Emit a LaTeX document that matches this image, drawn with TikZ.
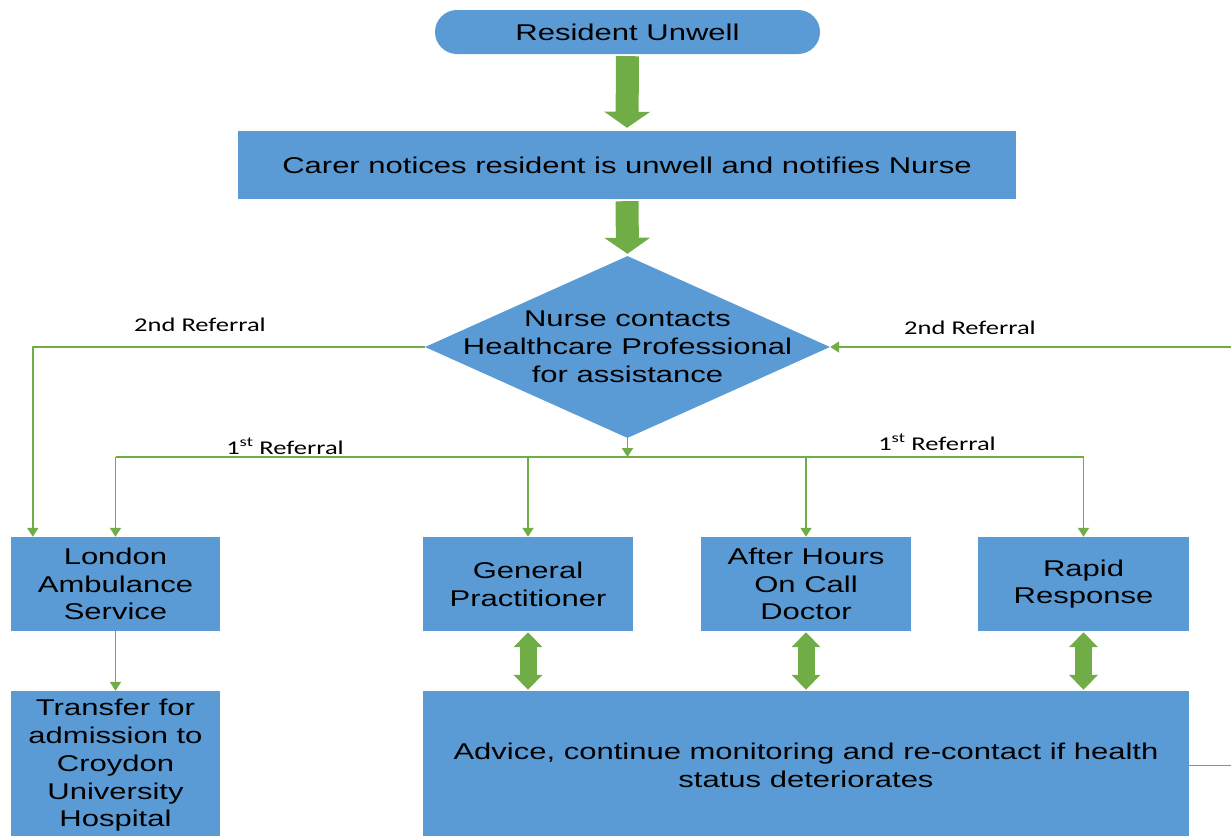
\documentclass[tikz,border=0pt]{standalone}
\usepackage{fontspec}
\setmainfont{Liberation Sans}[FakeStretch=1.36]
\newfontfamily\notefont{Carlito}[FakeStretch=1.36]
\usetikzlibrary{arrows.meta,shapes.geometric}
\definecolor{boxblue}{HTML}{5B9BD5}
\definecolor{flowgreen}{HTML}{70AD47}
\newcommand{\boxfontsize}{\fontsize{22.8}{27.8}\selectfont}
\tikzset{
  every picture/.style = {font=\boxfontsize, line join=round},
  box/.style           = {rectangle, fill=boxblue, inner sep=0pt, align=center, text=black},
  decision/.style      = {diamond, fill=boxblue, inner sep=0pt, minimum width=405pt, minimum height=182pt},
  bigarrow/.style      = {draw=flowgreen, line width=23pt, -{Triangle[width=45pt,length=16pt]}},
  twoway/.style        = {draw=flowgreen, line width=17pt,
                          {Triangle[width=28pt,length=15pt]}-{Triangle[width=28pt,length=15pt]}},
  link/.style          = {draw=flowgreen, line width=1.8pt, -{Triangle[width=11pt,length=9pt]}},
  wire/.style          = {draw=flowgreen, line width=1.8pt},
  note/.style          = {font=\notefont\fontsize{19.5}{22}\selectfont, text=black},
}
\begin{document}
\begin{tikzpicture}[x=1pt, y=-1pt]
  \useasboundingbox (0,0) rectangle (1231,835);
  \clip (0,0) rectangle (1231,835);

  % ---------- the chain down to the nurse ------------------------------------
  \node[box, rounded corners=22pt, minimum width=385pt, minimum height=44pt]
    (resident) at (627.5,32) {Resident Unwell};
  \node[box, minimum width=778pt, minimum height=68pt]
    (carer) at (627,165) {Carer notices resident is unwell and notifies Nurse};
  \node[decision] (nurse) at (627.5,347) {};
  \node[align=center] (nursetext) at (nurse.center)
    {Nurse contacts\\Healthcare Professional\\for assistance};

  \draw[bigarrow, shorten <=2pt, shorten >=3pt] (resident.south) -- (carer.north);
  \draw[bigarrow, shorten <=2pt, shorten >=2pt] (carer.south) -- (nurse.north);

  % ---------- the four services -----------------------------------------------
  \node[box, minimum width=209pt, minimum height=94pt] (las)        at (115.5,584) {London\\Ambulance\\Service};
  \node[box, minimum width=210pt, minimum height=94pt] (gp)         at (528,584)   {General\\Practitioner};
  \node[box, minimum width=210pt, minimum height=94pt] (afterhours) at (806,584)   {After Hours\\On Call\\Doctor};
  \node[box, minimum width=211pt, minimum height=94pt] (rapid)      at (1083.5,584) {Rapid\\Response};

  \node[box, minimum width=209pt, minimum height=149pt] (transfer) at (115.5,765.5)
    {Transfer for\\admission to\\Croydon\\University\\Hospital};
  \node[box, minimum width=766pt, minimum height=149pt] (advice) at (806,765.5)
    {Advice, continue monitoring and re-contact if health\\status deteriorates};

  % 1st referral: one bus under the diamond, a drop to each service
  \coordinate (branch) at (627.5,457);
  \draw[link] (nurse.south) -- (branch);
  \draw[wire] (las.north |- branch) -- (rapid.north |- branch);
  \foreach \svc in {las, gp, afterhours, rapid}
    \draw[link] (\svc.north |- branch) -- (\svc.north);
  \node[note] (firstleft)  at (285,446) {1\textsuperscript{st} Referral};
  \node[note] (firstright) at (937,442) {1\textsuperscript{st} Referral};

  % 2nd referral: out to the ambulance, and back in from the advice box
  \coordinate (lasdrop) at ([xshift=22pt]las.north west);
  \draw[link] (nurse.west) -| (lasdrop);
  \coordinate (farright) at (1250,765.5);
  \draw[link] (advice.east) -- (farright) |- (nurse.east);
  \node[note] (secondleft)  at (200,325) {2nd Referral};
  \node[note] (secondright) at (970,328) {2nd Referral};

  \draw[link] (las.south) -- (transfer.north);
  \foreach \svc in {gp, afterhours, rapid}
    \draw[twoway, shorten <=1pt, shorten >=1pt] (\svc.south) -- (\svc.south |- advice.north);
\end{tikzpicture}
\end{document}
